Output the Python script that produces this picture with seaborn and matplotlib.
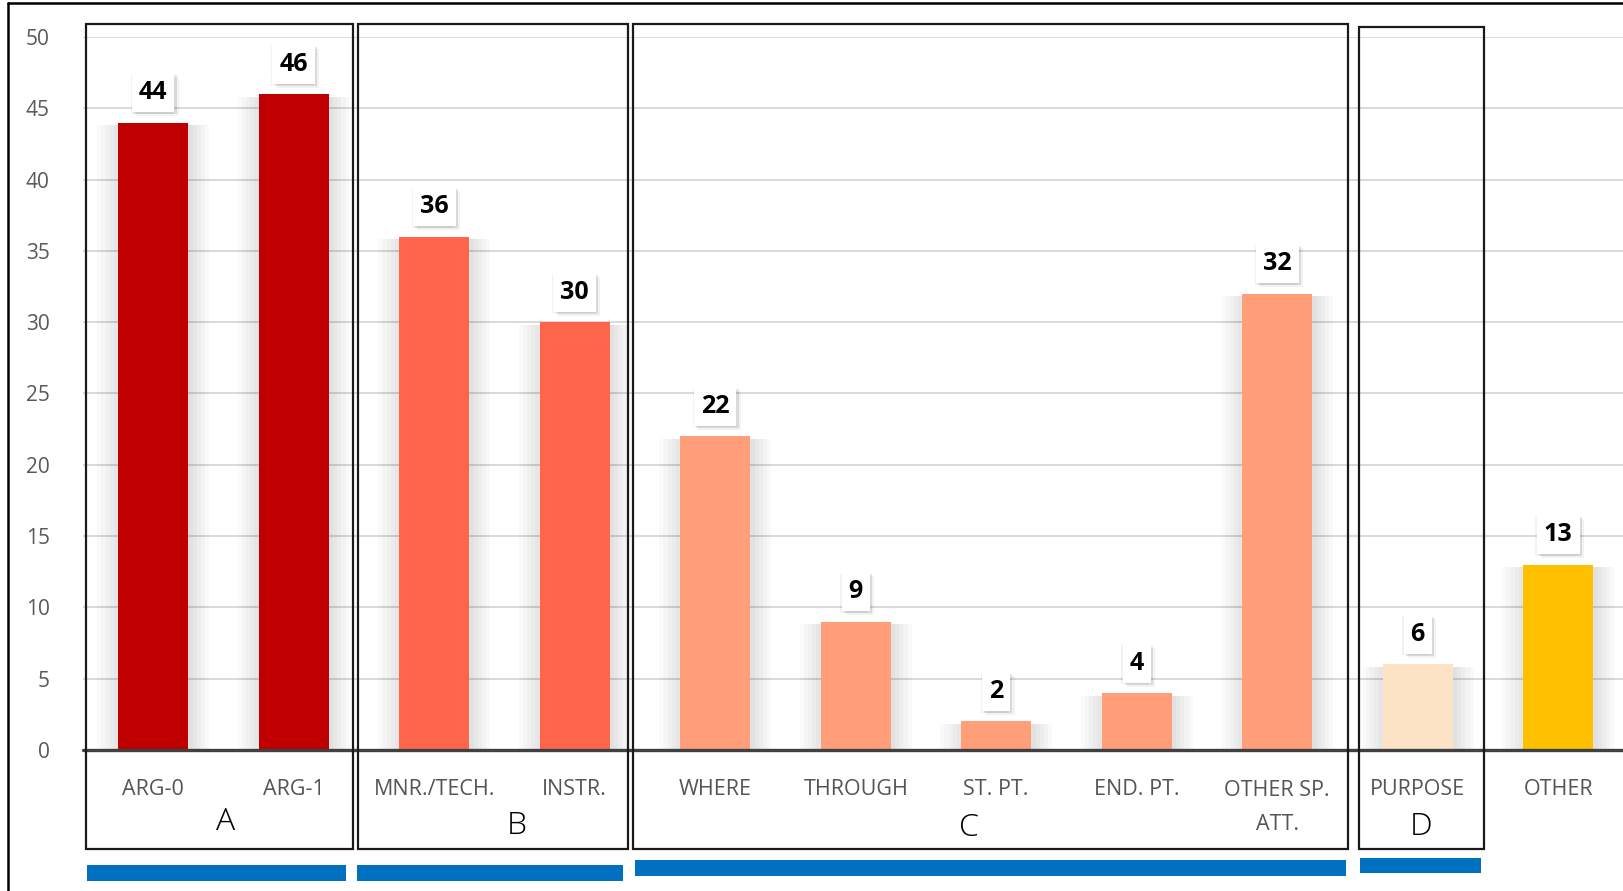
import matplotlib
matplotlib.use("Agg")
import matplotlib.pyplot as plt
import matplotlib.patheffects as pe
from matplotlib.patches import Rectangle
from matplotlib.lines import Line2D
from matplotlib.transforms import blended_transform_factory
import seaborn as sns
import pandas as pd

# ---------------- data ----------------
categories = ["ARG-0", "ARG-1", "MNR./TECH.", "INSTR.", "WHERE", "THROUGH",
              "ST. PT.", "END. PT.", "OTHER SP.\nATT.", "PURPOSE", "OTHER"]
values = [44, 46, 36, 30, 22, 9, 2, 4, 32, 6, 13]
bar_colors = ["#C00000", "#C00000", "#FF654B", "#FF654B", "#FF9E79", "#FF9E79",
              "#FF9E79", "#FF9E79", "#FF9E79", "#FDE3C5", "#FFC000"]
group_names = ["A", "B", "C", "D"]
y_ticks = [0, 5, 10, 15, 20, 25, 30, 35, 40, 45, 50]

# ---------------- layout (figure pixels) ----------------
W, H = 1624, 891
sns.set_theme(style="white")
plt.rcParams["font.family"] = ["Open Sans", "DejaVu Sans"]

fig = plt.figure(figsize=(W / 100, H / 100), dpi=100)
ax_left, ax_right, ax_top, ax_bot = 83, 1628.5, 37, 750
ax = fig.add_axes([ax_left / W, (H - ax_bot) / H, (ax_right - ax_left) / W, (ax_bot - ax_top) / H])

df = pd.DataFrame({"cat": categories, "val": values})
sns.barplot(data=df, x="cat", y="val", hue="cat", palette=bar_colors, order=categories,
            hue_order=categories, legend=False, width=0.5, ax=ax, saturation=1,
            linewidth=0)

# soft shadow on bars (layered for a gradient look)
shadow = []
for k in range(1, 6):
    shadow.append(pe.withSimplePatchShadow(offset=(3 * k, -2), shadow_rgbFace="#000000", alpha=0.025))
    shadow.append(pe.withSimplePatchShadow(offset=(-3 * k, -2), shadow_rgbFace="#000000", alpha=0.018))
shadow.append(pe.Normal())
for p in ax.patches:
    p.set_path_effects(shadow)

ax.set_xlim(-0.5, len(categories) - 0.5)
ax.set_ylim(0, 50)
ax.set_yticks(y_ticks)
ax.set_yticklabels([str(t) for t in y_ticks], fontsize=15, color="#595959")
ax.tick_params(axis="y", length=0, pad=24)
ax.yaxis.grid(True, color="#D9D9D9", linewidth=1.4)
ax.set_axisbelow(True)
for s in ax.spines.values():
    s.set_visible(False)
ax.set_xlabel("")
ax.set_ylabel("")

# x axis: zero line with boundary ticks
ax.set_xticks([i - 0.5 for i in range(len(categories) + 1)])
ax.set_xticklabels([])
ax.tick_params(axis="x", length=6, width=2, color="#404040", direction="out")
ax.axhline(0, color="#404040", linewidth=2.4, clip_on=False, zorder=5)

trans = blended_transform_factory(ax.transData, ax.transAxes)
def ay(py):
    return (ax_bot - py) / (ax_bot - ax_top)

# category labels (baseline of last line)
for i, lab in enumerate(categories):
    n = lab.count("\n")
    ax.text(i, ay(795 + 35 * n), lab, transform=trans, ha="center", va="baseline",
            fontsize=15.5, color="#555555", linespacing=1.8)

# data labels
for i, v in enumerate(values):
    t = ax.annotate(str(v), (i, v), xytext=(0, 21.5), textcoords="offset points",
                    ha="center", va="center", fontsize=18, fontweight="bold", color="black",
                    bbox=dict(boxstyle="square,pad=0.28", fc="white", ec="none"), zorder=6)
    t.get_bbox_patch().set_path_effects([
        pe.withSimplePatchShadow(offset=(3, -3), shadow_rgbFace="#000000", alpha=0.05),
        pe.withSimplePatchShadow(offset=(1.5, -1.5), shadow_rgbFace="#000000", alpha=0.10),
        pe.withSimplePatchShadow(offset=(-1, -1), shadow_rgbFace="#000000", alpha=0.05),
        pe.Normal()])

# group boxes, letters and blue bars (figure pixel coords)
def fx(px):
    return px / W
def fy(py):
    return 1 - py / H

boxes = [(86, 24, 353, 849), (358, 24, 628, 849), (633, 24, 1348, 849), (1359, 27, 1484, 849)]
letters = [(226, 830), (517, 834), (969, 836), (1421, 835)]
blues = [(87, 865, 346, 881), (357, 865, 623, 881), (635, 860, 1346, 876), (1360, 858, 1481, 873)]

for (x0, y0, x1, y1) in boxes:
    fig.add_artist(Rectangle((fx(x0), fy(y1)), fx(x1) - fx(x0), fy(y0) - fy(y1),
                             transform=fig.transFigure, fill=False, ec="#1a1a1a", lw=1.6, zorder=7))
for name, (lx, ly) in zip(group_names, letters):
    fig.text(fx(lx), fy(ly), name, ha="center", va="baseline", fontsize=23,
             fontweight="light", color="black")
for (x0, y0, x1, y1) in blues:
    fig.add_artist(Rectangle((fx(x0), fy(y1)), fx(x1) - fx(x0), fy(y0) - fy(y1),
                             transform=fig.transFigure, fc="#0070C0", ec="none", zorder=7))

# outer frame (left and top edges visible)
fig.add_artist(Line2D([fx(8), fx(8)], [0, fy(3)], transform=fig.transFigure, color="black", lw=1.8))
fig.add_artist(Line2D([fx(8), 1], [fy(3), fy(3)], transform=fig.transFigure, color="black", lw=1.8))

fig.savefig("out.png", dpi=100)
